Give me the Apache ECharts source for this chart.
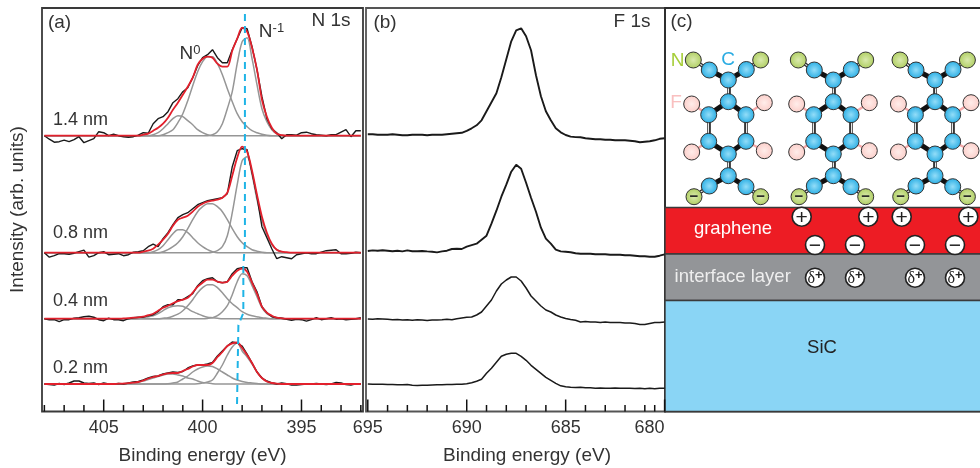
<!DOCTYPE html>
<html><head><meta charset="utf-8">
<style>html,body{margin:0;padding:0;background:#fff}#c{width:980px;height:468px}</style>
<script src="https://cdn.jsdelivr.net/npm/echarts@6/dist/echarts.min.js"></script>
</head><body><div id="c"></div>
<script>
// ---- panel (a): N 1s, heights above each spectrum's baseline, sampled every 0.25 eV from 408 eV
const black14=[0,-3.5,-6.5,-6,-4.5,-6,-4,-1,-7,-5,-3,4,3,0,1.5,0,-1,-1.5,-1,.5,3,2.5,12,17,19,24,33,37,44,48,58,70,78,81,86,78,73,73,86,97,108,107,89,66,39,17,7,3,-3,1,1,.5,3,3.5,2,1,.5,0,1,1,3.5,6,-1,5,5];
const black08=[0,-4.5,-3,-1,-1,-1.5,-.5,1,2.5,-4.5,-3,0,1,-2,-1.5,-1,-3,-2,.5,1,2,6,8.5,6,14,20,28,35,38,40,44,48,50,52,53,54,55,59,86,102,104,103,80,56,26,15,4,-6,-4,-5,-6,-2,-1,0,-1,-1,.5,2,2.5,3,-1,-1,-.5,.5,0];
const black04=[0,-1,-1,-3,-1,-1,.5,1,2,2.5,1.5,-1,-2,.5,-1,-1,-2,0,1,1.5,1.5,3,4,7,12,14,14,19,19,22,25,33,38,40,41,37,36,37,45,50,51,51,37,27,12,6,2,1,.5,-.5,-1.5,-.5,-1,-2.5,-1,1,-1,0,1,-.5,0,-1,-.5,0,1];
const black02=[0,-.5,-1,.5,-.5,1,3,3,1,.5,1,-.5,1,0,0,.5,0,1,2,2.5,4,6,7.5,8,10,11,12,11.5,12.5,16,18,19,19,20,21.5,28,33,38,42,41,38,30,21,12,6,3,1,0,1,.3,-1,-1,-.5,0,0,.5,0,-.5,0,1.5,1,-.5,-1,.3,0];
// fit and component curves: first number is the sample index where the curve leaves the baseline
const fit14=[20,1,2,5,8,12,18,26,33,41,49,58,71,77,79,78,72,69,69,85,97,108,104,88,66,36,19,8,2,.5];
const low14=[22,1,3,7,12,17,20,19,15,11,6,3,1];
const mid14=[24,1,3,6,13,22,35,50,64,74,79,79,72,61,47,34,22,14,9,5,3,1.5,.5];
const high14=[34,1,4,12,27,44,72,94,98,77,51,27,14,6,2,.5];
const fit08=[20,1,2,4,8,13,19,27,33,35,37,41,46,49,51,52,53,55,60,77,95,106,101,82,58,36,20,9,3,1,.5];
const low08=[22,1,3,7,13,19,23,23,20,15,10,6,3,1];
const mid08=[24,1,3,6,10,16,24,33,41,46,49,49,46,41,33,24,16,10,6,3,1.5,.5];
const high08=[34,.5,2,6,17,40,68,92,96,78,53,33,18,8,3,1];
const fit04=[16,.3,.5,1,1.3,2,3.5,5,8,11,13,15.5,17.5,19,21,26,32,36,39,39,37,36,37,43,48,50,47,36,25,12,6,3,1,.4];
const low04=[19,.3,1,2,3,5,8,11,12.5,13,12.5,10,7,5,3,1.5,1,.5];
const mid04=[24,.5,1,2.5,4.5,8,13,19,26,31,34,34,31,26,20,15,11,7,4.5,3,2,1,.5];
const high04=[33,.3,1,3,7,13,24,37,45,43,33,22,11,5,2.5,1,.5];
const fit02=[15,.3,.5,.8,1.3,2,3.5,5.5,7,8,9.5,10.7,11,11,13,15,17.5,19,19,19,21,27,32,38,40.7,41.5,36,29,21,12,6,2.5,1,.3];
const low02=[17,.3,1,2,3,4.5,6,7.5,9,10,10,9,8,6,5,3,1.5,1,.3];
const mid02=[25,.3,1,2,5,8,12,15,17,18,17.5,15,12,9,6,4,2.5,1.5,1,.5];
const high02=[31,.3,1,2,4,11,19,29,37,41,33,27,20,12,6,2.5,1,.3];
const baseA=[275.8,158.8,92.8,27.5];
const shiftLine=[[397.86,397.5],[397.86,168.5],[397.94,146],[397.94,98.5],[398.19,86.5],[398.26,6.5]];

// ---- panel (b): F 1s, sampled every 0.25 eV from 695 eV
const f14=[0,0,-.5,-.5,-.5,0,-.5,-1,-1,-.5,-.5,-.5,-1,-.5,-.5,-.5,0,.5,1,1.5,3.5,6,9,14,23,32,41,57,75,93,104,106,98,84,59,38,23,14,6,2,-.7,-2.3,-2.8,-3,-4,-4.5,-5,-5,-5.5,-5.5,-6,-6,-6,-6.5,-7,-8,-7.5,-7,-6,-4.5,-4];
const f08=[-.3,.3,0,.5,0,-.5,0,-.7,.3,-.5,-.5,-.3,-.7,-1,-1.7,-.7,0,1.7,2,1.7,4,5.5,7,11,15,27,40,54,66,79,86,82,68,53,39,23,12,7,1,-.7,-1,-1.5,-2.5,-3,-3,-3,-3.5,-3.5,-3.5,-4,-4,-4,-4.5,-4.5,-5,-5.5,-5.5,-6,-6,-5,-3.7];
const f04=[0,-.3,.3,0,-.3,-.7,-.5,-1,-.7,-1.3,-.7,-1,-1.5,-1,-1,-.7,-.3,-.7,.3,1,1.7,2,4,7,13,19,28,35,39,42,42,38,31,23,18,13,9,7,4,2,.5,-.5,-1.3,-3,-2.5,-3,-3,-3.5,-3,-3.5,-3.5,-3.5,-4,-4,-4.5,-5.5,-5.5,-4.5,-3.5,-3.5,-3];
const f02=[.3,0,0,0,-.3,-.3,-.5,-.5,-.3,-1,-1.3,-1,-1,-.7,-.5,-.5,-.3,-.3,0,0,.5,1.5,3,5,11,16,22,28,30,31,31,28,24,19,15,11,7,4,1,-1.5,-2.5,-3,-3.3,-3,-3.5,-3.5,-4,-3.7,-4,-4,-3.7,-4,-4,-4,-4.3,-4,-4.5,-4,-4.5,-4,-4];
const baseB=[277.2,160.8,92.5,27.2];

// ---- tick labels
const ticksA=[405,400,395];
const minorA=[392,393,394,396,397,398,399,401,402,403,404,406,407,408];
const ticksB=[695,690,685,680];
const minorB=[680.5,681,682,683,684,686,687,688,689,691,692,693,694];

// ---- panel (c): structure
const molCenters=[63.3,168.3,270];
const cAtoms=[[-19,341.5],[18,342],[0,331.5],[0,309.8],[-19.6,296.8],[17.7,296.8],[-19.6,270.2],[17.7,270.2],[0,257.5],[0,235.8],[-19,225.5],[17.7,224.8]];
const nTop=[[-35,351.5],[32.4,351.5]];
const nBottom=[[-34.3,214.8],[32.4,214.8]];
const fAtoms=[[-36.6,307.5],[36,308.8],[-36.6,259.5],[36,260.8]];
const singleBonds=[[2,0],[2,1],[3,4],[3,5],[6,8],[7,8],[9,10],[9,11]];
const doubleBonds=[[2,3],[4,6],[5,7],[8,9]];
const plusX=[136.7,203.3,236.7,303.3];
const minusX=[150,190,250,290];
const layers=[[204,157.5,'#ED1C24'],[157.5,111,'#939598'],[111,0,'#8AD5F5']];

const FONT='"Liberation Sans",Arial,sans-serif', INK='#333';
const energyA=black14.map((_,i)=>408-i*.25);
const energyB=f14.map((_,i)=>695-i*.25);

const full=(r,b)=>energyA.map((e,i)=>{const k=i-r[0]+1;return [e,b+((k>=1&&k<r.length)?r[k]:0)]});
const raw=(r,b)=>energyA.map((e,i)=>[e,b+r[i]]);
const lineS=(data,color,width,z,smooth)=>({type:'line',xAxisIndex:0,yAxisIndex:0,data,showSymbol:false,symbol:'none',smooth:smooth||false,
  lineStyle:{color,width},z,silent:true,animation:false});
const series=[];
[[low14,mid14,high14,black14,fit14],[low08,mid08,high08,black08,fit08],[low04,mid04,high04,black04,fit04],[low02,mid02,high02,black02,fit02]].forEach((s,k)=>{
  const b=baseA[k];
  s.slice(0,3).forEach(g=>series.push(lineS(full(g,b),'#969696',1.5,2,.3)));
  series.push(lineS(raw(s[3],b),'#1a1a1a',1.4,3));
  series.push(lineS(full(s[4],b),'#E2202C',1.8,4,.3));
});
series.push({type:'line',xAxisIndex:0,yAxisIndex:0,data:shiftLine,symbol:'none',lineStyle:{color:'#1FB4E6',width:2,type:[7,5]},z:5,silent:true});
[f14,f08,f04,f02].forEach((f,k)=>series.push({type:'line',xAxisIndex:1,yAxisIndex:1,symbol:'none',data:energyB.map((e,i)=>[e,baseB[k]+f[i]]),
  lineStyle:{color:'#1a1a1a',width:k<2?1.9:1.5},z:3,silent:true}));

// axis ticks, placed through the axis scale
const tickS=(ax,vals,len)=>({type:'custom',xAxisIndex:ax,yAxisIndex:ax,silent:true,z:6,clip:false,data:vals.map(v=>[v]),encode:{x:0},
  renderItem:(p,api)=>{const c=api.coord([api.value(0),0]);
    return {type:'line',shape:{x1:c[0],y1:c[1],x2:c[0],y2:c[1]-len},style:{stroke:'#111',lineWidth:1.5}};}});
series.push(tickS(0,ticksA,12),tickS(0,minorA,6.5),tickS(1,ticksB,12),tickS(1,minorB,6.5));

// layers
series.push({type:'custom',xAxisIndex:2,yAxisIndex:2,silent:true,z:1,data:layers,encode:{y:[0,1]},clip:false,
  renderItem:(p,api)=>{const t=api.coord([0,layers[p.dataIndex][0]]),b=api.coord([320,layers[p.dataIndex][1]]);
    return {type:'rect',shape:{x:t[0],y:t[1],width:b[0]-t[0],height:b[1]-t[1]},style:{fill:layers[p.dataIndex][2],stroke:'#3a3a3a',lineWidth:1.4}};}});
// bonds
const place=(c,a)=>[c+a[0],a[1]];
const bond=(list)=>({type:'lines',coordinateSystem:'cartesian2d',xAxisIndex:2,yAxisIndex:2,silent:true,data:list.map(coords=>({coords})),effect:{show:false}});
const thick=[],dbl=[],ncBonds=[],cf=[];
molCenters.forEach(c=>{
  singleBonds.forEach(([p,q])=>thick.push([place(c,cAtoms[p]),place(c,cAtoms[q])]));
  doubleBonds.forEach(([p,q])=>dbl.push([place(c,cAtoms[p]),place(c,cAtoms[q])]));
  ncBonds.push([place(c,nTop[0]),place(c,cAtoms[0])],[place(c,nTop[1]),place(c,cAtoms[1])],[place(c,nBottom[0]),place(c,cAtoms[10])],[place(c,nBottom[1]),place(c,cAtoms[11])]);
  [[0,4],[1,5],[2,6],[3,7]].forEach(([f,q])=>cf.push([place(c,fAtoms[f]),place(c,cAtoms[q])]));
});
series.push(Object.assign(bond(thick),{z:6,lineStyle:{color:'#111',width:5,opacity:1}}));
series.push(Object.assign(bond(dbl.concat(ncBonds)),{z:6,lineStyle:{color:'#222',width:3.6,opacity:1}}));
series.push(Object.assign(bond(dbl.concat(ncBonds)),{z:7,lineStyle:{color:'#e8e8e8',width:1.2,opacity:1}}));
series.push(Object.assign(bond(cf),{z:6,lineStyle:{color:'#F4A7A7',width:2.4,opacity:1}}));
// atoms
const grad=(a,b)=>({type:'radial',x:.5,y:.5,r:.55,colorStops:[{offset:0,color:a},{offset:1,color:b}]});
const atoms=(list,a,b,extra)=>Object.assign({type:'scatter',xAxisIndex:2,yAxisIndex:2,symbolSize:16,silent:true,z:8,
  data:molCenters.flatMap(c=>list.map(p=>place(c,p))),itemStyle:{color:grad(a,b),borderColor:'#333',borderWidth:1,opacity:1}},extra||{});
series.push(atoms(cAtoms,'#93DDF8','#1FA9E2'));
series.push(atoms(fAtoms,'#FFEDEA','#FBCBC6'));
series.push(atoms(nTop,'#DAEAAE','#ABCB5A'));
series.push(atoms(nBottom,'#DAEAAE','#ABCB5A',{label:{show:true,position:'inside',formatter:'\u2212',color:'#222',fontSize:15,fontWeight:'bold',fontFamily:FONT}}));
// charges
const charge=(xs,v,rich,text,off)=>({type:'scatter',xAxisIndex:2,yAxisIndex:2,symbolSize:19,silent:true,z:9,data:xs.map(x=>[x,v]),
  itemStyle:{color:'#fff',borderColor:'#222',borderWidth:1.6,opacity:1},
  label:{show:true,position:'inside',offset:off||[0,0],formatter:text,color:'#222',fontFamily:FONT,fontSize:21,rich:rich||{}}});
series.push(charge(plusX,194.8,null,'+',[0,1.5]));
series.push(charge(minusX,166.5,null,'\u2212',[0,1.5]));
series.push(charge(minusX,133.8,{d:{fontFamily:'"Liberation Serif",serif',fontSize:16,color:'#222'},s:{fontFamily:FONT,fontSize:13,color:'#222',fontWeight:'bold',padding:[0,0,6,0]}},'{d|\u03B4}{s|+}',[0,1]));

const txt=(x,y,t,o)=>({type:'text',x,y,z:20,style:Object.assign({text:t,fill:INK,font:'19px '+FONT,textAlign:'center',textVerticalAlign:'middle'},o||{})});
const sup={b:{fontFamily:FONT,fontSize:19,color:INK},u:{fontFamily:FONT,fontSize:13,color:INK,padding:[0,0,8,0]}};
const nm={font:'18px '+FONT};
const graphic=[
  txt(59.5,23,'(a)'),txt(331,21,'N 1s'),
  txt(190,54,'{b|N}{u|0}',{rich:sup}),txt(271.5,32,'{b|N}{u|-1}',{rich:sup}),
  txt(80.6,120,'1.4 nm',nm),txt(80.6,233,'0.8 nm',nm),txt(80.6,301,'0.4 nm',nm),txt(80.6,368,'0.2 nm',nm),
  {type:'text',x:18,y:209.5,rotation:Math.PI/2,z:20,style:{text:'Intensity (arb. units)',fill:INK,font:'19px '+FONT,textAlign:'center',textVerticalAlign:'middle'}},
  txt(385,23,'(b)'),txt(632,22,'F 1s'),
  txt(681.5,22,'(c)'),
  txt(677.5,61,'N',{fill:'#A6CE39'}),txt(728,60,'C',{fill:'#29ABE2'}),txt(676,103,'F',{fill:'#F9C0C0'}),
  txt(733,229,'graphene',{fill:'#fff',font:'18.5px '+FONT}),txt(732.7,277,'interface layer',{fill:'#eee',font:'18.5px '+FONT}),txt(822,348,'SiC',{fill:'#222',font:'18.5px '+FONT})
];

const frame=(c)=>({show:true,borderColor:c,borderWidth:1.8,backgroundColor:'transparent',outerBoundsMode:'none'});
const majorX=(gridIndex,min,max,vals,labelExtra,namePad)=>({type:'value',gridIndex,min,max,inverse:true,splitLine:{show:false},axisLine:{show:false},
  axisTick:{show:false},
  axisLabel:Object.assign({show:true,customValues:vals,color:INK,fontFamily:FONT,fontSize:18,margin:8},labelExtra||{}),
  name:'Binding energy (eV)',nameLocation:'middle',nameGap:35,nameTextStyle:{color:INK,fontFamily:FONT,fontSize:19,padding:namePad||0}});
const hiddenY=(gridIndex)=>({type:'value',gridIndex,min:0,max:403.5,show:false,splitLine:{show:false}});

const chart=echarts.init(document.getElementById('c'),null,{renderer:'canvas'});
chart.setOption({
  animation:false,backgroundColor:'#fff',
  grid:[
    Object.assign({left:42,top:8,width:321,height:403.5},frame('#3a3a3a')),
    Object.assign({left:366,top:8,width:299,height:403.5},frame('#555')),
    Object.assign({left:665,top:8,width:320,height:403.5},frame('#2a2a2a'))
  ],
  xAxis:[
    majorX(0,391.89,408.12,ticksA),
    majorX(1,679.98,695.09,ticksB,{alignMaxLabel:'right'},[0,0,0,23]),
    {type:'value',gridIndex:2,min:0,max:320,show:false,splitLine:{show:false}}
  ],
  yAxis:[hiddenY(0),hiddenY(1),hiddenY(2)],
  series,graphic
});
</script></body></html>
